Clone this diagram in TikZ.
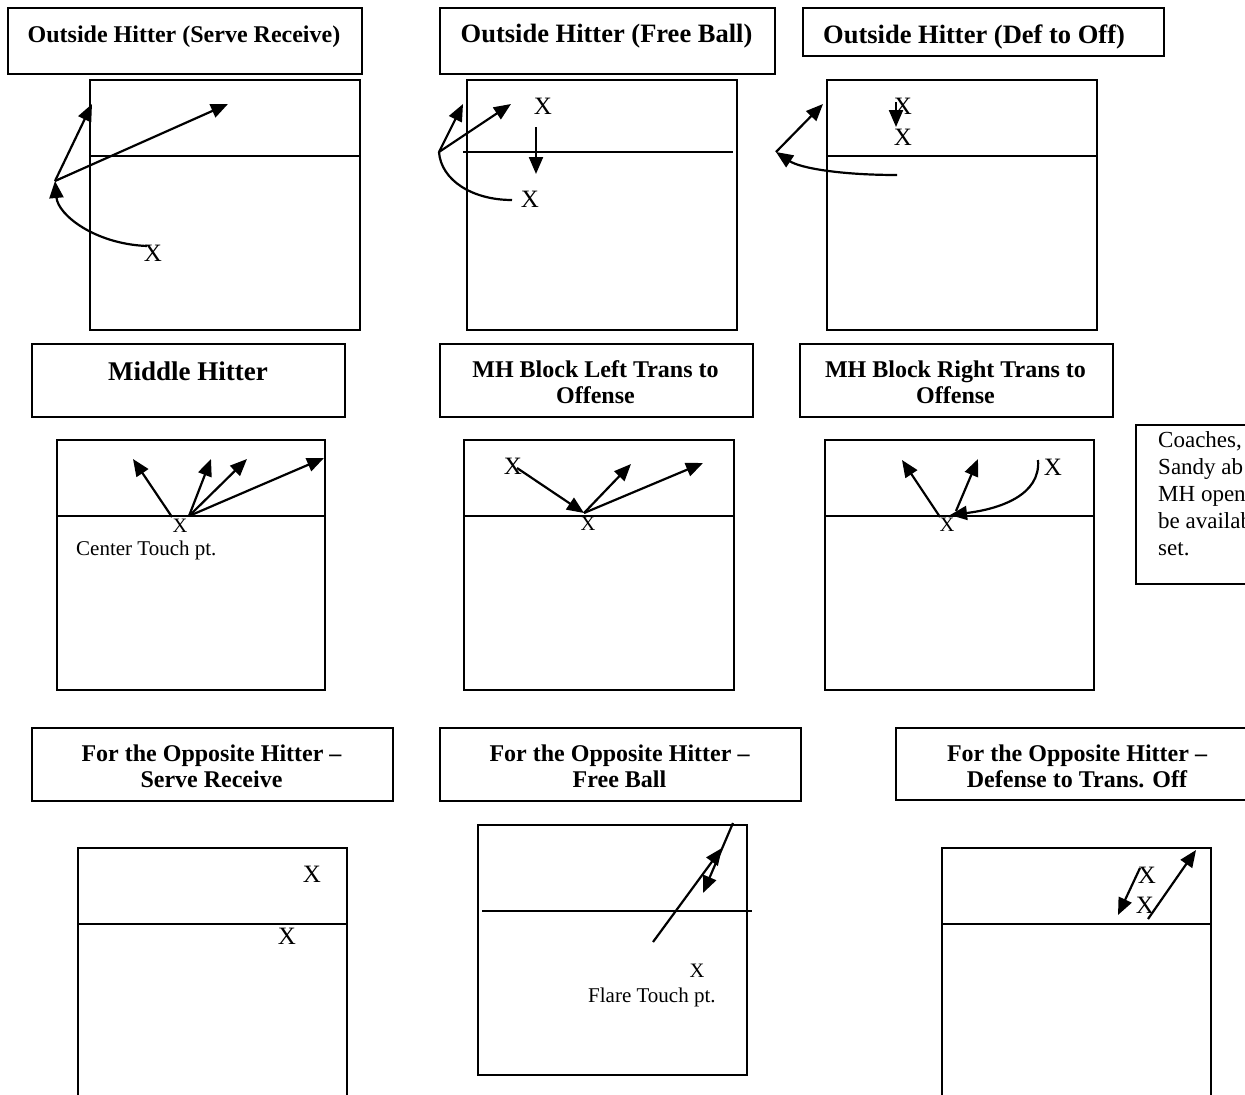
\documentclass[tikz,border=0pt]{standalone}
\usepackage{fontspec}
\setmainfont{Liberation Serif}
\usetikzlibrary{arrows.meta}
\newcommand\bx[5]{\node[frame, anchor=north west, inner sep=0pt, minimum width=#4pt, minimum height=#5pt] (#1) at (#2,#3) {};}
\begin{document}
\begin{tikzpicture}[x=1pt,y=-1pt,
  frame/.style={draw, line width=1.7pt},
  netline/.style={line width=1.5pt},
  arr/.style={line width=2.2pt, -{Triangle[length=17pt,width=14pt]}},
  plainline/.style={line width=2.2pt},
  ttl/.style={font=\bfseries\fontsize{24}{27}\selectfont, inner sep=0pt, anchor=base},
  ttlL/.style={font=\bfseries\fontsize{26.5}{30}\selectfont, inner sep=0pt, anchor=base},
  ttlXL/.style={font=\bfseries\fontsize{27}{30}\selectfont, inner sep=0pt, anchor=base},
  xm/.style={font=\fontsize{25}{25}\selectfont, inner sep=0pt},
  xs/.style={font=\fontsize{20.5}{20.5}\selectfont, inner sep=0pt},
  lbl/.style={font=\fontsize{21}{24}\selectfont, inner sep=0pt, anchor=base west},
  note/.style={font=\fontsize{23}{27}\selectfont, inner sep=0pt, anchor=base west},
]
\useasboundingbox (0,0) rectangle (1245,1095);
\begin{scope}
\clip (0,0) rectangle (1245,1095);

% ---------- Row 1 ----------
\bx{t1}{7}{7}{354}{66}
\node[ttl] (t1a) at (184,42) {Outside Hitter (Serve Receive)};
\bx{c1}{89}{79}{270}{250}
\draw[netline] (89,156) -- (359,156);
\node[xm] (x1) at (153,253) {X};
\coordinate (p1) at (55,181);
\draw[arr] (147,246) .. controls (95,244) and (58,215) .. (p1);
\draw[arr] (p1) -- (92,104);
\draw[arr] (p1) -- (228,104);

\bx{t2}{439}{7}{335}{66}
\node[ttlL] (t2a) at (606.5,42) {Outside Hitter (Free Ball)};
\bx{c2}{466}{79}{270}{250}
\draw[netline] (463,152) -- (733,152);
\node[xm] (x2a) at (543,106) {X};
\node[xm] (x2b) at (530,199) {X};
\draw[arr] (536,127) -- (536,174);
\coordinate (p2) at (439,152);
\draw[plainline] (512,200) .. controls (472,200) and (441,180) .. (p2);
\draw[arr] (p2) -- (463,104);
\draw[arr] (p2) -- (511,104);

\bx{t3}{802}{7}{361}{48}
\node[ttlL, anchor=base west] (t3a) at (823,43) {Outside Hitter (Def to Off)};
\bx{c3}{826}{79}{270}{250}
\draw[netline] (826,156) -- (1096,156);
\node[xm] (x3a) at (903,106) {X};
\node[xm] (x3b) at (903,137) {X};
\draw[arr] (896,102) -- (896,127);
\coordinate (p3) at (776,152);
\draw[arr] (897,175) .. controls (840,175) and (800,168) .. (p3);
\draw[arr] (p3) -- (823,104);

% ---------- Row 2 ----------
\bx{t4}{31}{343}{313}{73}
\node[ttlXL] (t4a) at (188,380) {Middle Hitter};
\bx{c4}{56}{439}{268}{250}
\draw[netline] (56,516) -- (324,516);
\draw[arr] (172,517) -- (133,459);
\coordinate (p4) at (189,516);
\draw[arr] (p4) -- (211,459);
\draw[arr] (p4) -- (247,459);
\draw[arr] (p4) -- (324,458);
\node[xs] (x4) at (180,526) {X};
\node[lbl] (l4) at (76,555) {Center Touch pt.};

\bx{t5}{439}{343}{313}{73}
\node[ttl] (t5a) at (595.5,377) {MH Block Left Trans to};
\node[ttl] (t5b) at (595.5,403) {Offense};
\bx{c5}{463}{439}{270}{250}
\draw[netline] (463,516) -- (733,516);
\node[xm] (x5a) at (513,466) {X};
\node[xs] (x5b) at (588,524) {X};
\coordinate (p5) at (584,513);
\draw[arr] (517,468) -- (p5);
\draw[arr] (p5) -- (631,464);
\draw[arr] (p5) -- (703,463);

\bx{t6}{799}{343}{313}{73}
\node[ttl] (t6a) at (955.5,377) {MH Block Right Trans to};
\node[ttl] (t6b) at (955.5,403) {Offense};
\bx{c6}{824}{439}{269}{250}
\draw[netline] (824,516) -- (1093,516);
\node[xm] (x6a) at (1053,467) {X};
\node[xs] (x6b) at (947,525) {X};
\draw[arr] (1038,460) .. controls (1041,495) and (1000,509) .. (950,515);
\draw[arr] (940,517) -- (902,460);
\draw[arr] (956,511) -- (978,459);

\bx{nb}{1135}{424}{130}{159}
\node[note] (n1) at (1158,447) {Coaches,};
\node[note] (n2) at (1158,474) {Sandy ab};
\node[note] (n3) at (1158,501) {MH open};
\node[note] (n4) at (1158,528) {be availab};
\node[note] (n5) at (1158,555) {set.};

% ---------- Row 3 ----------
\bx{t7}{31}{727}{361}{73}
\node[ttl] (t7a) at (211.5,761) {For the Opposite Hitter –};
\node[ttl] (t7b) at (211.5,787) {Serve Receive};
\bx{c7}{77}{847}{269}{270}
\draw[netline] (77,924) -- (346,924);
\node[xm] (x7a) at (312,874) {X};
\node[xm] (x7b) at (287,936) {X};

\bx{t8}{439}{727}{361}{73}
\node[ttl] (t8a) at (619.5,761) {For the Opposite Hitter –};
\node[ttl] (t8b) at (619.5,787) {Free Ball};
\bx{c8}{477}{824}{269}{250}
\draw[netline] (482,911) -- (752,911);
\draw[arr] (653,942) -- (722,848);
\draw[arr] (733,823) -- (703,893);
\node[xs] (x8) at (697,971) {X};
\node[lbl] (l8) at (588,1002) {Flare Touch pt.};

\bx{t9}{895}{727}{370}{72}
\node[ttl] (t9a) at (1077,761) {For the Opposite Hitter –};
\node[ttl] (t9b) at (1077,787) {Defense to Trans. Off};
\bx{c9}{941}{847}{269}{270}
\draw[netline] (941,924) -- (1210,924);
\node[xm] (x9a) at (1147,875) {X};
\node[xm] (x9b) at (1145,905) {X};
\draw[arr] (1140,868) -- (1118,915);
\draw[arr] (1148,919) -- (1196,850);
\end{scope}
\end{tikzpicture}
\end{document}
